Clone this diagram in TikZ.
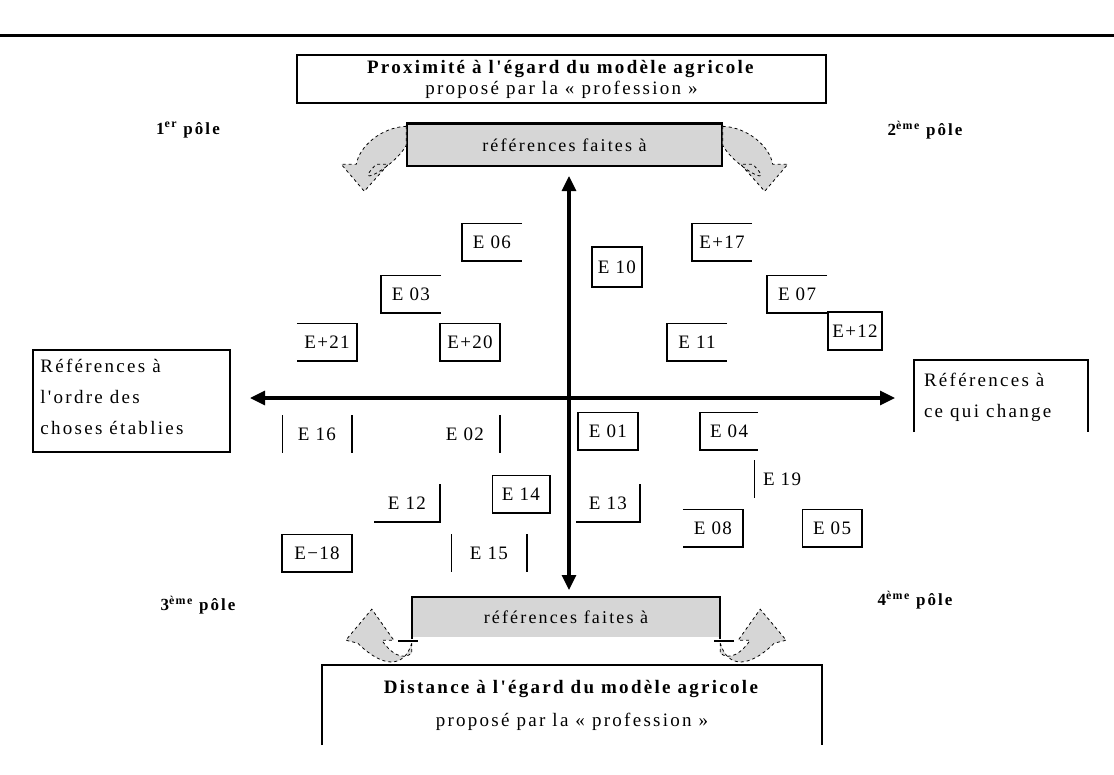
\documentclass[tikz,border=0pt]{standalone}
\usepackage{fontspec}
\setmainfont{Liberation Serif}
\newfontfamily\widefont[LetterSpace=12]{Liberation Serif}
\newfontfamily\entryfont[LetterSpace=7]{Liberation Serif}
\usetikzlibrary{arrows.meta}
\begin{document}
\begin{tikzpicture}[x=1pt,y=-1pt,
  entry/.style={inner sep=0pt, minimum width=60pt, minimum height=37pt,
    font=\entryfont\fontsize{19}{19}\selectfont},
  edgeline/.style={line width=1.6pt},
  boxframe/.style={draw, line width=1.6pt},
  axisline/.style={line width=3.2pt, {Triangle[length=15pt,width=14pt]}-{Triangle[length=15pt,width=14pt]}},
  bentarrow/.style={fill=black!16, draw=black, line width=0.8pt, dash pattern=on 3pt off 3pt},
  polelabel/.style={font=\widefont\bfseries\fontsize{17}{17}\selectfont},
  titletext/.style={font=\widefont\fontsize{19}{21}\selectfont, align=center, inner sep=1pt},
  greytext/.style={font=\widefont\fontsize{18}{18}\selectfont},
  sidetext/.style={font=\widefont\fontsize{19}{31}\selectfont, align=left, inner sep=0pt}
]
\useasboundingbox (0,0) rectangle (1114,774);
\fill[white] (0,0) rectangle (1114,774);

% rule across the top of the page
\draw[line width=3pt] (0,35) -- (1114,35);

% upper title box
\node[boxframe, minimum width=529pt, minimum height=48pt, titletext] (top) at (561.5,79)
  {\textbf{Proximité à l'égard du modèle agricole}\\proposé par la « profession »};

% upper grey box and its two bent arrows
\node[draw, line width=1.4pt, fill=black!16, minimum width=315pt, minimum height=42pt,
  greytext] (refhaut) at (564.5,145) {références faites à};
\draw[line width=3pt] (refhaut.north west) -- (refhaut.north east);
\draw[bentarrow] ([yshift=-3pt]refhaut.north west) .. controls +(-25,1) and +(3,-18) .. +(-50,38)
  -- +(-65,38) -- +(-42,65) -- +(-18,38) -- +(-30,38)
  .. controls +(-26,26) and +(-12,22) .. ([yshift=-22pt]refhaut.north west) -- cycle;
\draw[bentarrow] ([yshift=-3pt]refhaut.north east) .. controls +(25,1) and +(-3,-18) .. +(50,38)
  -- +(65,38) -- +(42,65) -- +(18,38) -- +(30,38)
  .. controls +(26,26) and +(12,22) .. ([yshift=-22pt]refhaut.north east) -- cycle;

% lower grey box and its two bent arrows
\node[fill=black!16, minimum width=308pt, minimum height=40pt, greytext] (refbas) at (566,617)
  {références faites à};
\draw[line width=2.4pt] ([yshift=-2pt]refbas.south west) -- (refbas.north west)
  -- (refbas.north east) -- ([yshift=-2pt]refbas.south east);
\draw[bentarrow] ([yshift=-6pt]refbas.south west) .. controls +(-8,26) and +(24,24) .. +(-54,0)
  -- +(-66,-3) -- +(-40,-34) -- +(-18,-3) -- +(-30,-3)
  .. controls +(8,12) and +(-10,8) .. ([yshift=-16pt]refbas.south west) -- cycle;
\draw[bentarrow] ([yshift=-6pt]refbas.south east) .. controls +(8,26) and +(-24,24) .. +(54,0)
  -- +(66,-3) -- +(40,-34) -- +(18,-3) -- +(30,-3)
  .. controls +(-8,12) and +(10,8) .. ([yshift=-16pt]refbas.south east) -- cycle;
\draw[line width=1.6pt] ([xshift=-14pt,yshift=-4pt]refbas.south west) -- ([xshift=6pt,yshift=-4pt]refbas.south west);
\draw[line width=1.6pt] ([xshift=14pt,yshift=-4pt]refbas.south east) -- ([xshift=-6pt,yshift=-4pt]refbas.south east);

% lower title box, open at the bottom
\node[minimum width=500pt, minimum height=80pt, titletext, font=\widefont\fontsize{19}{33}\selectfont] (bas) at (572,705)
  {\textbf{Distance à l'égard du modèle agricole}\\proposé par la « profession »};
\draw[line width=1.6pt] (bas.south west) -- (bas.north west) -- (bas.north east) -- (bas.south east);

% side boxes
\node[boxframe, minimum width=197pt, minimum height=102pt] (gauche) at (131.5,401) {};
\node[sidetext, anchor=north west] (gtext) at ([xshift=8pt,yshift=-10pt]gauche.north west)
  {Références à\\l'ordre des\\choses établies};
\node[minimum width=174pt, minimum height=72pt] (droite) at (1001,396) {};
\draw[line width=1.6pt] (droite.south west) -- (droite.north west) -- (droite.north east) -- (droite.south east);
\node[sidetext, anchor=north west] (dtext) at ([xshift=10pt,yshift=-13pt]droite.north west)
  {Références à\\ce qui change};

% pole labels
\node[polelabel] (p1) at (188,130) {1\textsuperscript{er} pôle};
\node[polelabel] (p2) at (925,130) {2\textsuperscript{ème} pôle};
\node[polelabel] (p3) at (198,605) {3\textsuperscript{ème} pôle};
\node[polelabel] (p4) at (915,600) {4\textsuperscript{ème} pôle};

% axes
\coordinate (vh) at (569,176);
\coordinate (vb) at (569,590);
\coordinate (hg) at (250,398);
\coordinate (hd) at (895,398);
\draw[axisline] (vb) -- (vh);
\draw[axisline] (hg) -- (hd);

% interviews
\node[entry] (e06) at (492,242) {E 06};
\draw[edgeline] (e06.north east) -- (e06.north west) -- (e06.south west) -- (e06.south east);
\node[entry, minimum width=50pt, minimum height=40pt] (e10) at (617,267) {E 10};
\draw[edgeline] (e10.north west) rectangle (e10.south east);
\node[entry] (e17) at (722,242) {E+17};
\draw[edgeline] (e17.north east) -- (e17.north west) -- (e17.south west) -- (e17.south east);
\node[entry] (e03) at (411,294) {E 03};
\draw[edgeline] (e03.north east) -- (e03.north west) -- (e03.south west) -- (e03.south east);
\node[entry] (e07) at (797,294) {E 07};
\draw[edgeline] (e07.north east) -- (e07.north west) -- (e07.south west) -- (e07.south east);
\node[entry, minimum width=54pt, minimum height=38pt] (e12h) at (855,331) {E+12};
\draw[edgeline] (e12h.north west) rectangle (e12h.south east);
\node[entry] (e21) at (327,342) {E+21};
\draw[edgeline] (e21.north west) -- (e21.north east) -- (e21.south east) -- (e21.south west);
\node[entry] (e20) at (470,342) {E+20};
\draw[edgeline] (e20.north west) rectangle (e20.south east);
\node[entry] (e11) at (697,342) {E 11};
\draw[edgeline] (e11.north east) -- (e11.north west) -- (e11.south west) -- (e11.south east);

\node[entry, minimum width=69pt] (e16) at (317,434) {E 16};
\draw[edgeline] (e16.north west) -- (e16.south west);
\draw[edgeline] (e16.north east) -- (e16.south east);
\node[entry, minimum width=70pt] (e02) at (465,434) {E 02};
\draw[edgeline] (e02.north east) -- (e02.south east);
\node[entry] (e01) at (608,431) {E 01};
\draw[edgeline] (e01.north west) rectangle (e01.south east);
\node[entry, minimum width=58pt] (e04) at (729,431) {E 04};
\draw[edgeline] (e04.north east) -- (e04.north west) -- (e04.south west) -- (e04.south east);
\node[entry, minimum width=55pt] (e19) at (782,479) {E 19};
\draw[edgeline] (e19.north west) -- (e19.south west);
\node[entry, minimum width=57pt] (e14) at (521,494) {E 14};
\draw[edgeline] (e14.north west) rectangle (e14.south east);
\node[entry, minimum width=65pt] (e12b) at (407,503) {E 12};
\draw[edgeline] (e12b.north east) -- (e12b.south east) -- (e12b.south west);
\node[entry, minimum width=63pt] (e13) at (608,503) {E 13};
\draw[edgeline] (e13.north east) -- (e13.south east) -- (e13.south west);
\node[entry] (e08) at (713,528) {E 08};
\draw[edgeline] (e08.north west) -- (e08.north east) -- (e08.south east) -- (e08.south west);
\node[entry, minimum width=59pt] (e05) at (832,528) {E 05};
\draw[edgeline] (e05.north west) rectangle (e05.south east);
\node[entry, minimum width=70pt] (e18) at (317,553) {E−18};
\draw[edgeline] (e18.north west) rectangle (e18.south east);
\node[entry, minimum width=75pt] (e15) at (489,553) {E 15};
\draw[edgeline] (e15.north west) -- (e15.south west);
\draw[edgeline] (e15.north east) -- (e15.south east);
\end{tikzpicture}
\end{document}
